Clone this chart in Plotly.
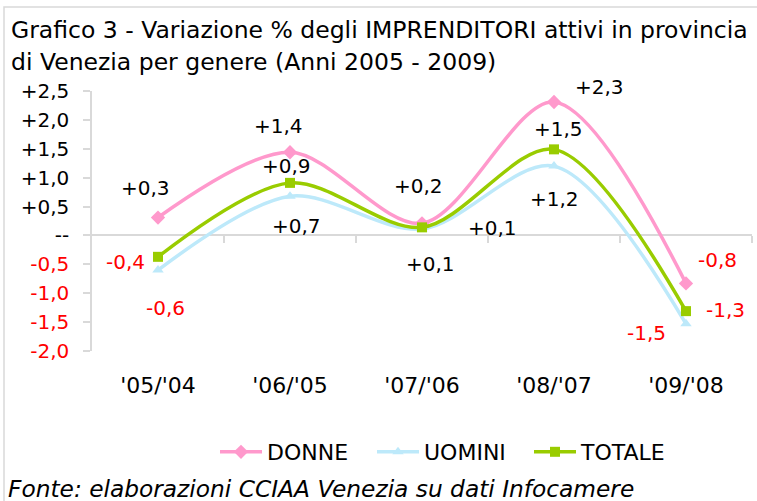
import plotly.graph_objects as go

categories = ["'05/'04", "'06/'05", "'07/'06", "'08/'07", "'09/'08"]
donne = [0.31, 1.44, 0.21, 2.31, -0.83]
uomini = [-0.60, 0.68, 0.11, 1.20, -1.53]
totale = [-0.37, 0.91, 0.14, 1.49, -1.31]
ytick_vals = [2.5, 2.0, 1.5, 1.0, 0.5, 0.0, -0.5, -1.0, -1.5, -2.0]

FONT = "DejaVu Sans, sans-serif"
FS = 20
W, H = 757, 501
L, R, T, B = 92, 5, 91, 150
PW, PH = W - L - R, H - T - B

def fmt(v):
    return f"{v:+.1f}".replace(".", ",")

def ytick_text(v):
    if abs(v) < 1e-9:
        return "--"
    s = fmt(v)
    if v < 0:
        return f"<span style='color:#ff0000'>{s}</span>"
    return s

x_idx = list(range(len(categories)))

series = [
    ("DONNE", donne, "#ff99cc", "diamond", 11,
     [(-13, 30), (-12, 26), (-4, 37), (45, 15), (31, 23)]),
    ("UOMINI", uomini, "#bde9fa", "triangle-up", 10,
     [(7, -38), (6, -30), (8, -35), (0, -33), (-40, -9)]),
    ("TOTALE", totale, "#99cc00", "square", 10,
     [(-33, -5), (-4, 17), (70, -1), (4, 20), (39, 1)]),
]

fig = go.Figure()
annotations = []
for name, vals, color, sym, msize, offs in series:
    fig.add_trace(go.Scatter(
        x=x_idx, y=vals, name=name, mode="lines+markers",
        line=dict(color=color, width=3.5, shape="spline", smoothing=0.9),
        marker=dict(symbol=sym, size=msize, color=color),
    ))
    for i, v in enumerate(vals):
        dx, dy = offs[i]
        annotations.append(dict(
            x=i, y=v, xref="x", yref="y", text=fmt(v), showarrow=False,
            xshift=dx, yshift=dy,
            font=dict(family=FONT, size=FS, color="#ff0000" if v < 0 else "#000000"),
        ))

# helper trace for the category divider ticks on the zero line
fig.add_trace(go.Scatter(x=[], y=[], xaxis="x2", yaxis="y", showlegend=False,
                         hoverinfo="skip"))

def px_x(px):
    return (px - L) / PW

def px_y(py):
    return (H - B - py) / PH

annotations.append(dict(
    x=px_x(9), y=px_y(30), xref="paper", yref="paper", xanchor="left", yanchor="middle",
    text="Grafico 3 - Variazione % degli IMPRENDITORI attivi in provincia",
    showarrow=False, font=dict(family=FONT, size=23.5, color="#000000")))
annotations.append(dict(
    x=px_x(9), y=px_y(62), xref="paper", yref="paper", xanchor="left", yanchor="middle",
    text="di Venezia per genere (Anni 2005 - 2009)",
    showarrow=False, font=dict(family=FONT, size=23.5, color="#000000")))
annotations.append(dict(
    x=px_x(6), y=px_y(488), xref="paper", yref="paper", xanchor="left", yanchor="middle",
    text="<i>Fonte: elaborazioni CCIAA Venezia su dati Infocamere</i>",
    showarrow=False, font=dict(family=FONT, size=23.3, color="#000000")))

fig.update_layout(
    width=W, height=H,
    margin=dict(l=L, r=R, t=T, b=B, pad=0),
    paper_bgcolor="white", plot_bgcolor="white",
    font=dict(family=FONT, size=FS, color="#000000"),
    showlegend=True,
    legend=dict(orientation="h", x=px_x(215), y=px_y(452), xanchor="left", yanchor="middle",
                font=dict(family=FONT, size=22, color="#000000"),
                itemwidth=42, entrywidth=100, entrywidthmode="pixels",
                tracegroupgap=0, bgcolor="rgba(0,0,0,0)"),
    xaxis=dict(range=[-0.5, 4.5], tickmode="array", tickvals=x_idx, ticktext=categories,
               showgrid=False, zeroline=False, showline=False, ticks="",
               ticklabelstandoff=19, tickfont=dict(family=FONT, size=22)),
    xaxis2=dict(range=[-0.5, 4.5], overlaying="x", anchor="free", position=2.0 / 4.5,
                tickmode="array", tickvals=[0.5, 1.5, 2.5, 3.5, 4.5], ticks="outside",
                ticklen=7, tickwidth=1.5, tickcolor="#d9d9d9", showticklabels=False,
                showgrid=False, zeroline=False, showline=False, side="bottom"),
    yaxis=dict(range=[-2.0, 2.5], tickmode="array", tickvals=ytick_vals,
               ticktext=[ytick_text(v) for v in ytick_vals],
               showgrid=False, zeroline=True, zerolinecolor="#d9d9d9", zerolinewidth=2,
               showline=True, linecolor="#d9d9d9", linewidth=1.5,
               ticks="outside", ticklen=7, tickwidth=1.5, tickcolor="#d9d9d9",
               ticklabelstandoff=10, tickfont=dict(family=FONT, size=FS)),
    annotations=annotations,
    shapes=[dict(type="rect", xref="paper", yref="paper",
                 x0=px_x(4), x1=px_x(770), y0=px_y(7), y1=px_y(520),
                 line=dict(color="#d9d9d9", width=1.5), layer="below")],
)

fig.write_html("out.html", config={"displayModeBar": False},
               post_script="document.body.style.margin='0';")
